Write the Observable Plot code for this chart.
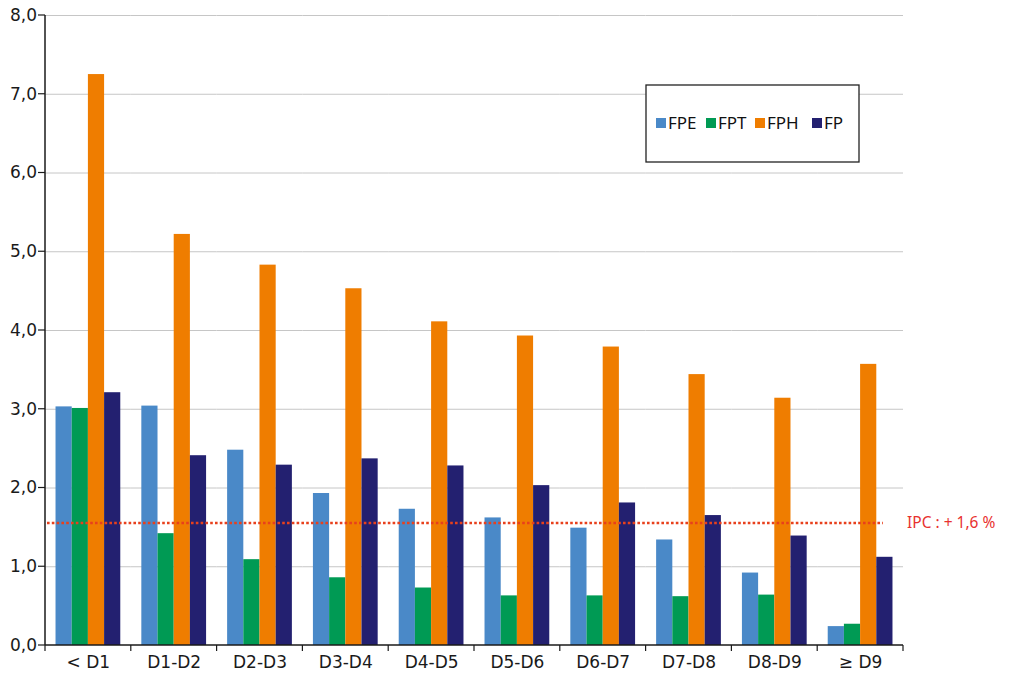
<!DOCTYPE html>
<html>
<head>
<meta charset="utf-8">
<script src="https://cdn.jsdelivr.net/npm/d3@7"></script>
<script src="https://cdn.jsdelivr.net/npm/@observablehq/plot@0.6"></script>
<style>
  html, body { margin: 0; padding: 0; background: #fff; }
  #chart { width: 1009px; height: 673px; }
</style>
</head>
<body>
<div id="chart"></div>
<script>
// ---- data ----
const categories = ["< D1", "D1-D2", "D2-D3", "D3-D4", "D4-D5", "D5-D6", "D6-D7", "D7-D8", "D8-D9", "≥ D9"];
const seriesNames = ["FPE", "FPT", "FPH", "FP"];
const seriesColors = ["#4a89c8", "#009a54", "#ef7d00", "#232070"];
const FPE = [3.03, 3.04, 2.48, 1.93, 1.73, 1.62, 1.49, 1.34, 0.92, 0.24];
const FPT = [3.01, 1.42, 1.09, 0.86, 0.73, 0.63, 0.63, 0.62, 0.64, 0.27];
const FPH = [7.25, 5.22, 4.83, 4.53, 4.11, 3.93, 3.79, 3.44, 3.14, 3.57];
const FP  = [3.21, 2.41, 2.29, 2.37, 2.28, 2.03, 1.81, 1.65, 1.39, 1.12];
const ipcValue = 1.55;
const ipcLabel = "IPC : + 1,6 %";
const yTicks = [0, 1, 2, 3, 4, 5, 6, 7, 8];

const seriesValues = {FPE, FPT, FPH, FP};
const rows = [];
categories.forEach((c, i) => {
  seriesNames.forEach(s => rows.push({cat: c, series: s, value: seriesValues[s][i]}));
});

const fmt = v => v.toFixed(1).replace(".", ",");
const axisFont = "'DejaVu Sans', sans-serif";
const font = "'Noto Sans', sans-serif";

const plot = Plot.plot({
  width: 1009,
  height: 673,
  marginLeft: 45,
  marginRight: 106,
  marginTop: 15,
  marginBottom: 28,
  style: {fontFamily: axisFont, background: "#fff", overflow: "visible"},
  fx: {domain: categories, padding: 0, round: false, axis: "bottom", tickSize: 0, tickPadding: 10, label: null},
  x: {domain: seriesNames, paddingInner: 0, paddingOuter: 0.65, round: false, axis: null},
  y: {domain: [0, 8], axis: null},
  color: {domain: seriesNames, range: seriesColors},
  marks: [
    Plot.ruleY(yTicks.slice(1), {stroke: "#c6c6c6", strokeWidth: 1}),
    Plot.barY(rows, {fx: "cat", x: "series", y: "value", fill: "series"}),
  ]
});

document.getElementById("chart").appendChild(plot);

const svg = d3.select(plot);
svg.selectAll("[aria-label='fx-axis tick label'] text, [aria-label='fx-axis tick label']")
  .attr("font-size", 17).attr("fill", "#1a1a1a").attr("font-family", axisFont);

const fx = plot.scale("fx");
const y = plot.scale("y");
const x0 = fx.apply(categories[0]);
const x1 = fx.apply(categories[categories.length - 1]) + fx.bandwidth;
const yZero = y.apply(0);

const deco = svg.append("g").attr("text-anchor", "start");
// y axis
deco.append("line").attr("x1", x0).attr("x2", x0).attr("y1", y.apply(8)).attr("y2", yZero)
  .attr("stroke", "#1a1a1a").attr("stroke-width", 1.5);
yTicks.forEach(t => {
  deco.append("line").attr("x1", x0 - 7).attr("x2", x0).attr("y1", y.apply(t)).attr("y2", y.apply(t))
    .attr("stroke", "#1a1a1a").attr("stroke-width", 1.2);
  deco.append("text").attr("x", x0 - 8).attr("y", y.apply(t)).attr("dy", "0.35em")
    .attr("text-anchor", "end").attr("font-size", 17).attr("fill", "#1a1a1a")
    .attr("font-family", axisFont).text(fmt(t));
});
// x axis
deco.append("line").attr("x1", x0).attr("x2", x1).attr("y1", yZero).attr("y2", yZero)
  .attr("stroke", "#1a1a1a").attr("stroke-width", 1.5);
const bounds = categories.map(c => fx.apply(c)).concat([x1]);
bounds.forEach(b => {
  deco.append("line").attr("x1", b).attr("x2", b).attr("y1", yZero).attr("y2", yZero + 6)
    .attr("stroke", "#1a1a1a").attr("stroke-width", 1.2);
});
// IPC reference line
const yi = y.apply(ipcValue);
deco.append("line").attr("x1", x0 + 2).attr("x2", x1 - 20).attr("y1", yi).attr("y2", yi)
  .attr("stroke", "#e8401c").attr("stroke-width", 2.6).attr("stroke-dasharray", "2.6,2.2");
deco.append("text").attr("x", x1 + 4).attr("y", yi).attr("dy", "0.35em").attr("text-anchor", "start")
  .attr("font-size", 15.5).attr("fill", "#e8312f").attr("font-family", font).text(ipcLabel);

// legend
const lg = svg.append("g").attr("text-anchor", "start");
lg.append("rect").attr("x", 646).attr("y", 85).attr("width", 213).attr("height", 77)
  .attr("fill", "#fff").attr("stroke", "#222").attr("stroke-width", 1.3);
const swX = [656, 706, 755, 812];
seriesNames.forEach((s, i) => {
  lg.append("rect").attr("x", swX[i]).attr("y", 118).attr("width", 10).attr("height", 10)
    .attr("fill", seriesColors[i]);
  lg.append("text").attr("x", swX[i] + 12).attr("y", 123).attr("dy", "0.35em").attr("text-anchor", "start")
    .attr("font-size", 17).attr("fill", "#111").attr("font-family", font).text(s);
});
</script>
</body>
</html>
